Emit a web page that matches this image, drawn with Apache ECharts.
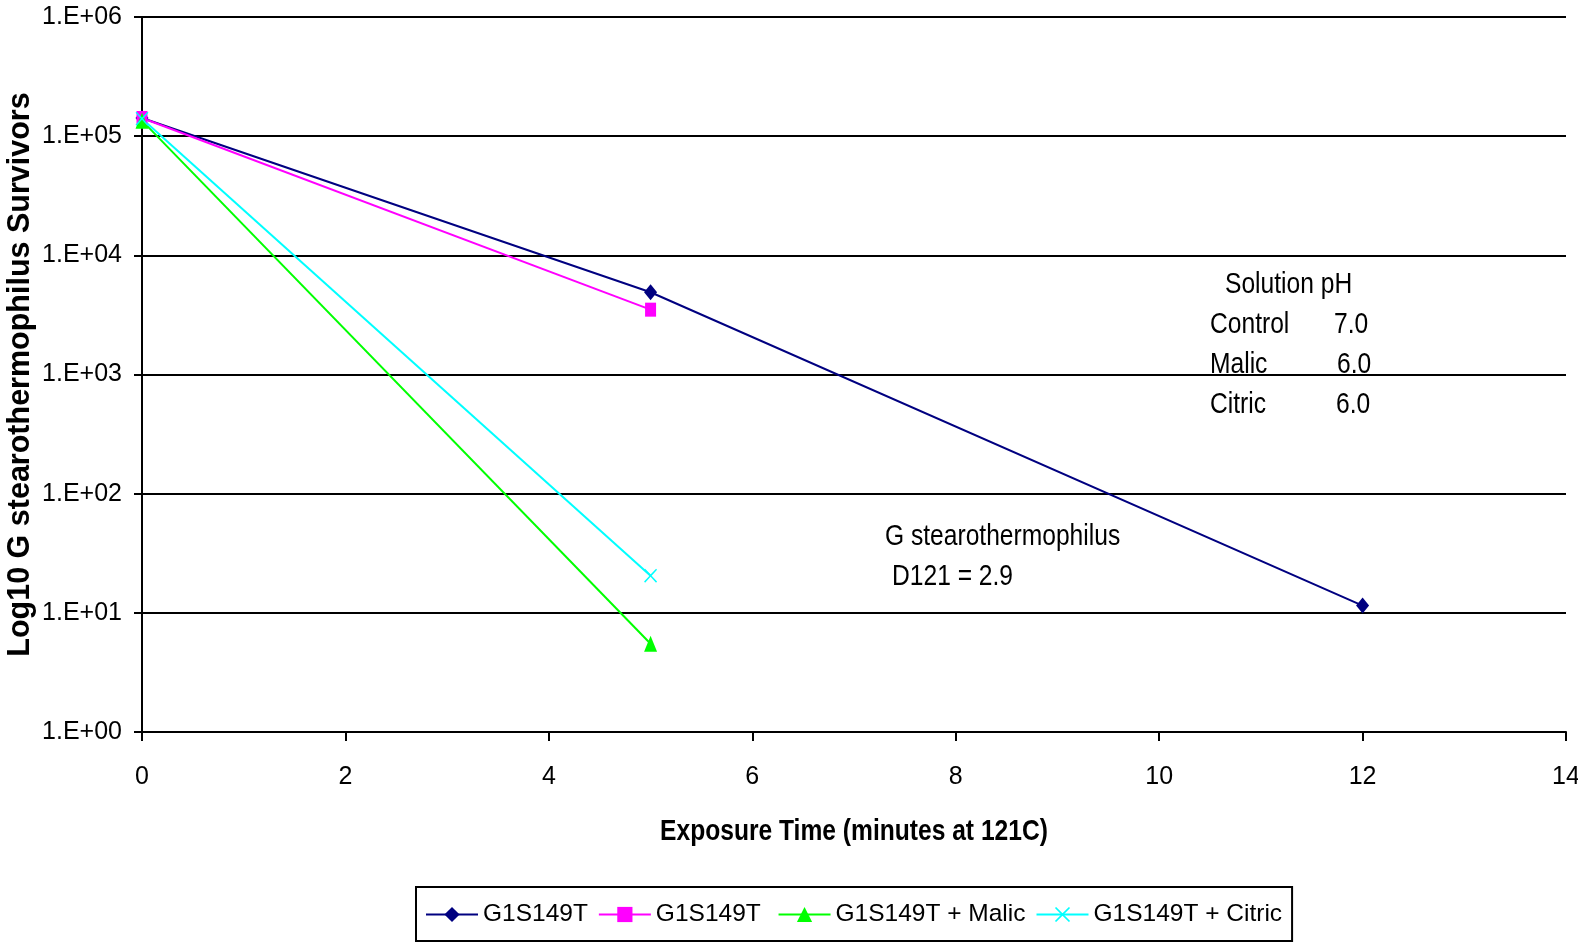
<!DOCTYPE html>
<html>
<head>
<meta charset="utf-8">
<script src="https://cdn.jsdelivr.net/npm/echarts@6/dist/echarts.min.js"></script>
<style>
html,body{margin:0;padding:0;background:#fff;}
#chart{width:1578px;height:943px;}
</style>
</head>
<body>
<div id="chart"></div>
<script>
// ---- data ----
const times = [0, 5, 12];
const seriesNames = ['G1S149T', 'G1S149T', 'G1S149T + Malic', 'G1S149T + Citric'];
const controlA = [142000, 4900, 11.5];
const controlB = [142000, 3500];
const malic = [135000, 5.5];
const citric = [140000, 20.5];
const xTicks = [0, 2, 4, 6, 8, 10, 12, 14];
const yTickLabels = ['1.E+00', '1.E+01', '1.E+02', '1.E+03', '1.E+04', '1.E+05', '1.E+06'];
const xTitle = 'Exposure Time (minutes at 121C)';
const yTitle = 'Log10 G stearothermophilus Survivors';
const phHeader = 'Solution pH';
const phRows = [['Control', '7.0'], ['Malic', '6.0'], ['Citric', '6.0']];
const noteLines = ['G stearothermophilus', 'D121 = 2.9'];

const REG = "'Liberation Sans',Arial,sans-serif";
const SQ = 0.82; // condensed text look

function pairs(vals) { return vals.map((v, i) => [times[i], v]); }

const crossPath = 'path://M0,0.8L0.8,0L5,4.2L9.2,0L10,0.8L5.8,5L10,9.2L9.2,10L5,5.8L0.8,10L0,9.2L4.2,5Z';

const chart = echarts.init(document.getElementById('chart'), null, {renderer: 'canvas'});

function mkSeries(name, vals, color, symbol, size) {
  return {
    name: name, type: 'line', data: pairs(vals),
    symbol: symbol, symbolSize: size,
    lineStyle: {color: color, width: 2},
    itemStyle: {color: color},
    emphasis: {disabled: true},
    animation: false
  };
}

function narrowText(str, x, y, opts) {
  opts = opts || {};
  return {
    type: 'text', x: x, y: y, scaleX: SQ, scaleY: 1,
    style: {text: str, x: 0, y: 0,
      font: (opts.bold ? 'bold ' : '') + (opts.size || 30) + 'px ' + REG,
      fill: '#000', verticalAlign: 'middle', align: opts.align || 'left'}
  };
}

const texts = [];
texts.push(narrowText(phHeader, 1225, 285));
phRows.forEach((r, i) => {
  const y = 325 + i * 40;
  texts.push(narrowText(r[0], 1210, y));
  texts.push(narrowText(r[1], [1334, 1337, 1336][i], y));
});
texts.push(narrowText(noteLines[0], 885, 537));
texts.push(narrowText(noteLines[1], 892, 577));
texts.push(narrowText(xTitle, 854, 832, {bold: true, size: 30, align: 'center'}));

chart.setOption({
  animation: false,
  backgroundColor: '#fff',
  grid: {left: 142, right: 12, top: 17, bottom: 211, containLabel: false, outerBoundsMode: 'none'},
  xAxis: {
    type: 'value', min: 0, max: 14, interval: 2,
    axisLine: {show: true, onZero: false, lineStyle: {color: '#000', width: 2}},
    axisTick: {show: true, length: 9, inside: false, lineStyle: {color: '#000', width: 2}},
    axisLabel: {margin: 33, color: '#000', fontSize: 25, fontFamily: REG,
      formatter: v => xTicks.includes(v) ? String(v) : ''},
    splitLine: {show: false}
  },
  yAxis: {
    type: 'log', logBase: 10, min: 1, max: 1000000, splitNumber: 6,
    axisLine: {show: true, lineStyle: {color: '#000', width: 2}},
    axisTick: {show: true, length: 8, inside: false, lineStyle: {color: '#000', width: 2}},
    axisLabel: {margin: 20, color: '#000', fontSize: 25, fontFamily: REG,
      formatter: v => yTickLabels[Math.round(Math.log10(v))] || ''},
    splitLine: {show: true, lineStyle: {color: '#000', width: 2}},
    minorTick: {show: false}, minorSplitLine: {show: false},
    name: yTitle, nameLocation: 'middle', nameGap: 106, nameRotate: 90, nameMoveOverlap: false,
    nameTextStyle: {color: '#000', fontSize: 30.5, fontWeight: 'bold', fontFamily: REG}
  },
  legend: {
    left: 416, top: 887, orient: 'horizontal',
    padding: [15, 10, 14, 9],
    itemGap: 10, itemWidth: 52, itemHeight: 19,
    borderColor: '#000', borderWidth: 2, borderRadius: 0,
    textStyle: {color: '#000', fontSize: 24.5, fontFamily: REG},
    data: [0, 1, 2, 3].map(i => ({name: seriesNames[i] + (i === 1 ? ' ' : '')})),
    selectedMode: false
  },
  series: [
    mkSeries(seriesNames[0], controlA, '#000080', 'diamond', [13, 16]),
    mkSeries(seriesNames[1] + ' ', controlB, '#FF00FF', 'rect', [11, 14]),
    mkSeries(seriesNames[2], malic, '#00FF00', 'triangle', [13, 16]),
    mkSeries(seriesNames[3], citric, '#00FFFF', crossPath, [13, 14])
  ],
  graphic: texts
});
</script>
</body>
</html>
